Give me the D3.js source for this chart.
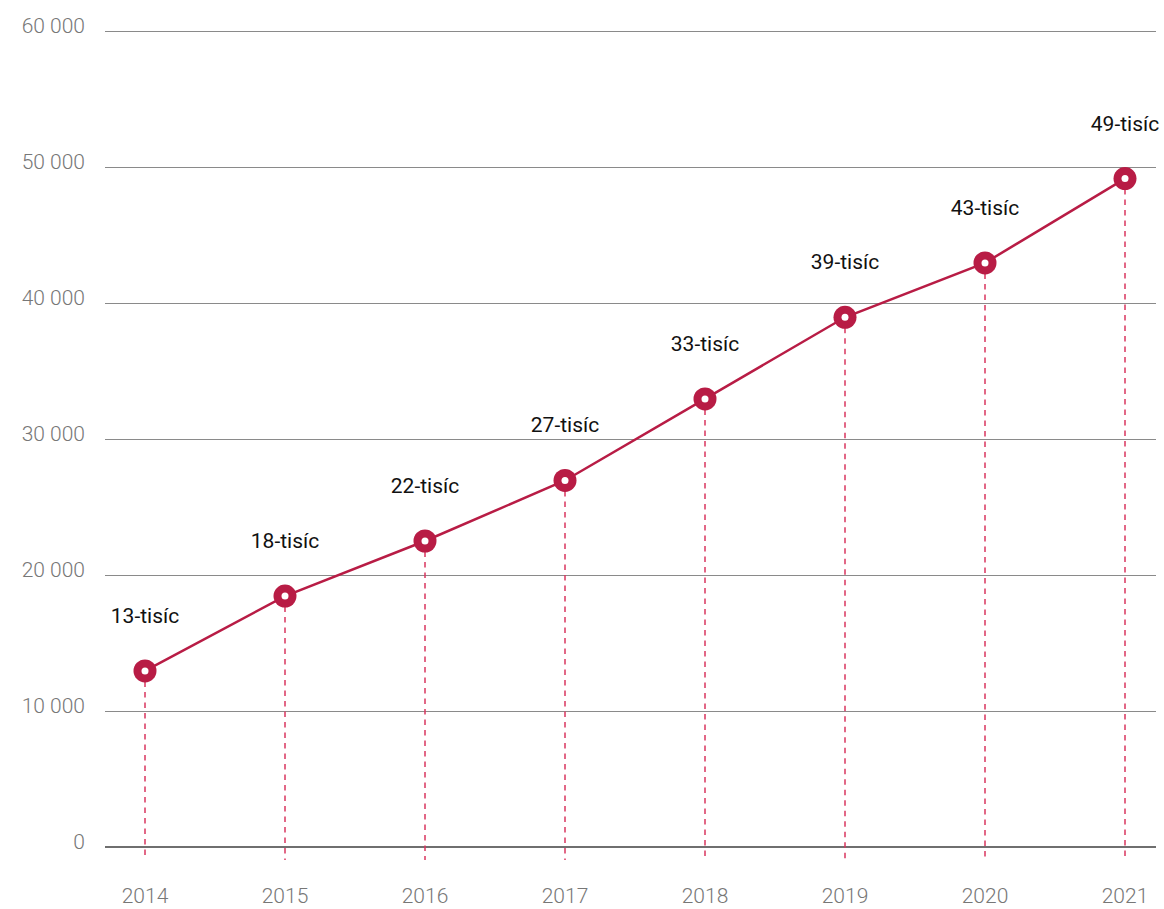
<!DOCTYPE html>
<html><head><meta charset="utf-8">
<script src="https://cdn.jsdelivr.net/npm/d3@7"></script>
<style>body{margin:0;background:#fff;}svg{display:block;}</style>
</head><body>
<svg id="c" width="1164" height="909"></svg>
<script>
const years = [2014, 2015, 2016, 2017, 2018, 2019, 2020, 2021];
const values = [12950, 18450, 22500, 26950, 32950, 38950, 42950, 49150];
const labels = ["13-tisíc", "18-tisíc", "22-tisíc", "27-tisíc", "33-tisíc", "39-tisíc", "43-tisíc", "49-tisíc"];
const yTicks = [0, 10000, 20000, 30000, 40000, 50000, 60000];
const yTickLabels = ["0", "10 000", "20 000", "30 000", "40 000", "50 000", "60 000"];

const svg = d3.select("#c");
const x = d3.scalePoint().domain(years).range([145, 1125]);
const y = d3.scaleLinear().domain([0, 60000]).range([847, 31]);
const red = "#b81c45";

// gridlines
svg.append("g").selectAll("line").data(yTicks).join("line")
  .attr("x1", 105).attr("x2", 1156)
  .attr("y1", d => d === 0 ? y(d) : Math.round(y(d)) + 0.5)
  .attr("y2", d => d === 0 ? y(d) : Math.round(y(d)) + 0.5)
  .attr("stroke", d => d === 0 ? "#6f6f6f" : "#8a8a8a")
  .attr("stroke-width", d => d === 0 ? 2 : 1);

// y labels
svg.append("g").selectAll("text").data(yTicks).join("text")
  .attr("x", 85).attr("y", d => y(d) + 2)
  .attr("text-anchor", "end")
  .attr("font-family", "Roboto").attr("font-weight", 300)
  .attr("font-size", 21).attr("fill", "#777")
  .text((d, i) => yTickLabels[i]);

// x labels
svg.append("g").selectAll("text").data(years).join("text")
  .attr("x", d => x(d)).attr("y", 903)
  .attr("text-anchor", "middle")
  .attr("font-family", "Roboto").attr("font-weight", 300)
  .attr("font-size", 21).attr("fill", "#777")
  .text(d => d);

// dashed drop lines
svg.append("g").selectAll("line").data(years).join("line")
  .attr("x1", d => x(d)).attr("x2", d => x(d))
  .attr("y1", (d, i) => y(values[i])).attr("y2", 860)
  .attr("stroke", "#d9365f").attr("stroke-width", 1.5)
  .attr("stroke-dasharray", "5.5,5");

// line
const line = d3.line().x((d, i) => x(years[i])).y(d => y(d));
svg.append("path").datum(values).attr("d", line)
  .attr("fill", "none").attr("stroke", red).attr("stroke-width", 2.5);

// points
const pts = svg.append("g").selectAll("g").data(values).join("g")
  .attr("transform", (d, i) => `translate(${x(years[i])},${y(d)})`);
pts.append("circle").attr("r", 11.5).attr("fill", red);
pts.append("circle").attr("r", 3.5).attr("fill", "#fff");

// value labels
svg.append("g").selectAll("text").data(values).join("text")
  .attr("x", (d, i) => x(years[i])).attr("y", d => y(d) - 48)
  .attr("text-anchor", "middle")
  .attr("font-family", "Roboto").attr("font-weight", 400)
  .attr("font-size", 21).attr("fill", "#111")
  .text((d, i) => labels[i]);
</script>
</body></html>
